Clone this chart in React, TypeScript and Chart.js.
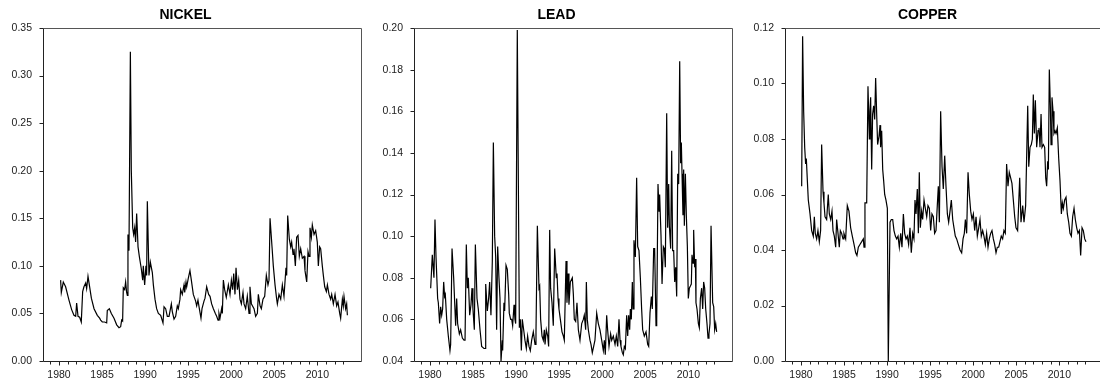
import React, { useEffect, useRef } from "react";
import { Chart, registerables } from "chart.js";

Chart.register(...registerables);

// ---- data (decimal year, value) ----
const nickelSeries: [number, number][] = [
  [1980.19,0.085],[1980.27,0.072],[1980.50,0.083],[1980.77,0.078],[1981.16,0.064],[1981.47,0.054],[1981.74,0.048],[1981.94,0.047],
  [1982.05,0.061],[1982.21,0.047],[1982.40,0.046],[1982.59,0.041],[1982.75,0.073],[1982.90,0.078],[1983.10,0.082],[1983.21,0.076],
  [1983.37,0.089],[1983.56,0.078],[1983.76,0.066],[1984.07,0.055],[1984.45,0.048],[1984.72,0.045],[1984.84,0.043],[1985.03,0.041],
  [1985.30,0.041],[1985.54,0.040],[1985.61,0.053],[1985.85,0.055],[1986.08,0.050],[1986.39,0.045],[1986.70,0.038],[1986.97,0.035],
  [1987.16,0.036],[1987.28,0.043],[1987.39,0.042],[1987.47,0.077],[1987.63,0.075],[1987.74,0.083],[1987.86,0.072],[1987.94,0.069],
  [1988.01,0.133],[1988.13,0.116],[1988.29,0.325],[1988.40,0.200],[1988.56,0.140],[1988.67,0.133],[1988.79,0.140],[1988.90,0.125],
  [1989.02,0.155],[1989.18,0.120],[1989.33,0.110],[1989.56,0.097],[1989.72,0.085],[1989.79,0.100],[1989.95,0.080],[1990.10,0.100],
  [1990.18,0.090],[1990.26,0.168],[1990.45,0.090],[1990.61,0.104],[1990.84,0.093],[1990.96,0.080],[1991.15,0.065],[1991.34,0.055],
  [1991.54,0.050],[1991.81,0.048],[1992.08,0.040],[1992.20,0.057],[1992.39,0.055],[1992.58,0.047],[1992.78,0.047],[1993.05,0.060],
  [1993.16,0.052],[1993.36,0.044],[1993.55,0.047],[1993.74,0.058],[1993.86,0.055],[1994.05,0.065],[1994.13,0.075],[1994.32,0.070],
  [1994.52,0.080],[1994.60,0.072],[1994.75,0.083],[1994.83,0.078],[1995.02,0.087],[1995.21,0.095],[1995.37,0.085],[1995.60,0.070],
  [1995.87,0.063],[1995.99,0.058],[1996.14,0.064],[1996.30,0.055],[1996.49,0.045],[1996.61,0.055],[1996.84,0.063],[1996.96,0.066],
  [1997.15,0.078],[1997.38,0.070],[1997.54,0.068],[1997.73,0.060],[1997.93,0.055],[1998.16,0.050],[1998.31,0.047],[1998.47,0.043],
  [1998.58,0.050],[1998.70,0.045],[1998.89,0.055],[1998.97,0.050],[1999.09,0.085],[1999.24,0.075],[1999.43,0.067],[1999.67,0.080],
  [1999.86,0.070],[2000.02,0.085],[2000.17,0.075],[2000.29,0.092],[2000.44,0.070],[2000.56,0.098],[2000.72,0.075],[2000.87,0.085],
  [2001.02,0.065],[2001.18,0.060],[2001.37,0.072],[2001.49,0.060],[2001.68,0.055],[2001.87,0.068],[2002.07,0.050],[2002.18,0.078],
  [2002.34,0.060],[2002.65,0.055],[2002.84,0.047],[2003.04,0.050],[2003.15,0.070],[2003.35,0.058],[2003.50,0.055],[2003.69,0.065],
  [2003.89,0.068],[2004.08,0.090],[2004.27,0.080],[2004.39,0.085],[2004.51,0.150],[2004.74,0.120],[2004.89,0.100],[2005.09,0.080],
  [2005.28,0.065],[2005.36,0.060],[2005.55,0.070],[2005.75,0.065],[2005.94,0.080],[2006.13,0.068],[2006.36,0.098],[2006.44,0.090],
  [2006.56,0.153],[2006.75,0.128],[2006.91,0.120],[2007.02,0.125],[2007.18,0.112],[2007.29,0.118],[2007.45,0.100],[2007.60,0.130],
  [2007.76,0.132],[2007.91,0.110],[2008.07,0.118],[2008.26,0.108],[2008.46,0.110],[2008.57,0.095],[2008.77,0.083],[2008.92,0.115],
  [2009.04,0.110],[2009.15,0.140],[2009.31,0.130],[2009.42,0.143],[2009.62,0.133],[2009.81,0.137],[2010.00,0.125],[2010.12,0.100],
  [2010.27,0.120],[2010.39,0.118],[2010.58,0.100],[2010.70,0.090],[2010.86,0.078],[2011.05,0.073],[2011.17,0.080],[2011.36,0.070],
  [2011.55,0.065],[2011.67,0.070],[2011.86,0.060],[2012.06,0.070],[2012.25,0.058],[2012.40,0.062],[2012.60,0.050],[2012.71,0.045],
  [2012.91,0.065],[2013.02,0.058],[2013.10,0.068],[2013.29,0.055],[2013.41,0.060],[2013.49,0.048],
];

const leadSeries: [number, number][] = [
  [1980.08,0.075],[1980.27,0.091],[1980.46,0.080],[1980.58,0.108],[1980.70,0.090],[1980.89,0.070],[1980.97,0.068],[1981.12,0.058],
  [1981.24,0.066],[1981.36,0.062],[1981.47,0.065],[1981.59,0.078],[1981.70,0.071],[1981.78,0.072],[1981.94,0.060],[1982.13,0.052],
  [1982.32,0.045],[1982.40,0.048],[1982.56,0.094],[1982.75,0.080],[1982.90,0.065],[1982.98,0.057],[1983.10,0.070],[1983.21,0.058],
  [1983.41,0.053],[1983.56,0.055],[1983.76,0.051],[1983.95,0.050],[1984.07,0.050],[1984.22,0.096],[1984.34,0.075],[1984.45,0.080],
  [1984.61,0.062],[1984.76,0.067],[1984.88,0.075],[1984.99,0.065],[1985.15,0.055],[1985.27,0.096],[1985.46,0.070],[1985.61,0.065],
  [1985.81,0.055],[1986.00,0.047],[1986.27,0.046],[1986.39,0.046],[1986.47,0.077],[1986.66,0.064],[1986.81,0.070],[1986.93,0.078],
  [1987.08,0.062],[1987.24,0.088],[1987.36,0.145],[1987.51,0.100],[1987.63,0.090],[1987.74,0.055],[1987.86,0.095],[1988.01,0.080],
  [1988.13,0.070],[1988.25,0.040],[1988.40,0.050],[1988.44,0.045],[1988.59,0.068],[1988.67,0.064],[1988.83,0.086],[1988.98,0.084],
  [1989.14,0.072],[1989.21,0.063],[1989.37,0.060],[1989.49,0.060],[1989.60,0.057],[1989.76,0.067],[1989.87,0.060],[1989.95,0.058],
  [1990.14,0.199],[1990.38,0.056],[1990.49,0.060],[1990.61,0.045],[1990.72,0.060],[1990.88,0.055],[1991.03,0.050],[1991.19,0.046],
  [1991.34,0.052],[1991.50,0.047],[1991.65,0.045],[1991.81,0.050],[1992.00,0.054],[1992.20,0.048],[1992.31,0.054],[1992.47,0.105],
  [1992.66,0.075],[1992.74,0.076],[1992.85,0.060],[1993.01,0.052],[1993.16,0.050],[1993.28,0.055],[1993.36,0.048],[1993.51,0.055],
  [1993.67,0.052],[1993.78,0.047],[1993.90,0.103],[1994.01,0.075],[1994.17,0.068],[1994.32,0.057],[1994.48,0.094],[1994.67,0.080],
  [1994.75,0.082],[1994.87,0.070],[1994.98,0.065],[1995.14,0.060],[1995.33,0.054],[1995.49,0.052],[1995.60,0.050],[1995.80,0.088],
  [1995.91,0.068],[1996.03,0.082],[1996.14,0.067],[1996.30,0.078],[1996.53,0.080],[1996.65,0.072],[1996.76,0.060],[1996.92,0.059],
  [1997.07,0.068],[1997.23,0.055],[1997.42,0.050],[1997.62,0.058],[1997.81,0.060],[1997.92,0.062],[1998.08,0.055],[1998.16,0.078],
  [1998.27,0.060],[1998.39,0.055],[1998.58,0.050],[1998.70,0.048],[1998.85,0.044],[1999.01,0.047],[1999.16,0.050],[1999.36,0.063],
  [1999.55,0.058],[1999.74,0.055],[1999.94,0.050],[2000.13,0.045],[2000.25,0.050],[2000.36,0.043],[2000.52,0.062],[2000.63,0.055],
  [2000.79,0.047],[2000.98,0.053],[2001.10,0.050],[2001.29,0.052],[2001.49,0.048],[2001.64,0.052],[2001.80,0.047],[2001.95,0.060],
  [2002.07,0.050],[2002.18,0.047],[2002.34,0.044],[2002.45,0.043],[2002.57,0.047],[2002.69,0.046],[2002.84,0.062],[2002.96,0.052],
  [2003.07,0.062],[2003.19,0.055],[2003.27,0.065],[2003.38,0.060],[2003.50,0.078],[2003.58,0.065],[2003.69,0.098],[2003.85,0.090],
  [2004.00,0.128],[2004.12,0.095],[2004.27,0.093],[2004.43,0.080],[2004.58,0.065],[2004.70,0.055],[2004.89,0.052],[2005.09,0.054],
  [2005.28,0.048],[2005.40,0.047],[2005.55,0.063],[2005.71,0.071],[2005.82,0.065],[2005.98,0.094],[2006.09,0.094],[2006.25,0.057],
  [2006.33,0.060],[2006.48,0.125],[2006.60,0.112],[2006.67,0.120],[2006.83,0.100],[2006.95,0.077],[2007.10,0.095],[2007.22,0.094],
  [2007.33,0.085],[2007.49,0.159],[2007.60,0.104],[2007.72,0.125],[2007.80,0.105],[2007.95,0.094],[2008.07,0.141],[2008.18,0.093],
  [2008.30,0.093],[2008.42,0.078],[2008.53,0.085],[2008.65,0.071],[2008.77,0.130],[2008.88,0.125],[2009.00,0.184],[2009.11,0.135],
  [2009.19,0.145],[2009.27,0.130],[2009.38,0.110],[2009.46,0.132],[2009.54,0.105],[2009.66,0.130],[2009.77,0.110],[2009.89,0.095],
  [2010.00,0.070],[2010.12,0.075],[2010.24,0.076],[2010.35,0.077],[2010.43,0.091],[2010.55,0.087],[2010.62,0.103],[2010.74,0.085],
  [2010.82,0.089],[2010.89,0.068],[2011.01,0.065],[2011.17,0.058],[2011.28,0.056],[2011.40,0.070],[2011.55,0.075],[2011.67,0.065],
  [2011.78,0.078],[2011.90,0.075],[2012.02,0.065],[2012.17,0.058],[2012.29,0.051],[2012.40,0.053],[2012.52,0.058],[2012.64,0.105],
  [2012.83,0.068],[2012.95,0.066],[2013.06,0.055],[2013.18,0.058],[2013.29,0.054],
];

const copperSeries: [number, number][] = [
  [1980.08,0.063],[1980.19,0.117],[1980.31,0.090],[1980.43,0.077],[1980.54,0.071],[1980.62,0.073],[1980.74,0.065],[1980.85,0.058],
  [1981.05,0.053],[1981.24,0.047],[1981.43,0.045],[1981.55,0.052],[1981.66,0.046],[1981.82,0.044],[1981.97,0.047],[1982.13,0.043],
  [1982.28,0.047],[1982.40,0.078],[1982.56,0.061],[1982.67,0.057],[1982.79,0.052],[1982.98,0.051],[1983.17,0.060],[1983.29,0.053],
  [1983.45,0.051],[1983.60,0.054],[1983.72,0.047],[1983.87,0.045],[1984.03,0.041],[1984.14,0.051],[1984.30,0.046],[1984.45,0.041],
  [1984.57,0.047],[1984.72,0.046],[1984.88,0.044],[1984.99,0.046],[1985.19,0.044],[1985.38,0.056],[1985.57,0.054],[1985.77,0.048],
  [1985.96,0.045],[1986.16,0.042],[1986.35,0.039],[1986.50,0.038],[1986.66,0.041],[1986.85,0.042],[1987.05,0.043],[1987.24,0.044],
  [1987.32,0.041],[1987.43,0.057],[1987.63,0.057],[1987.78,0.099],[1987.94,0.080],[1988.01,0.090],[1988.09,0.095],[1988.21,0.069],
  [1988.32,0.089],[1988.44,0.092],[1988.56,0.087],[1988.67,0.102],[1988.79,0.089],[1988.90,0.078],[1989.06,0.081],[1989.18,0.085],
  [1989.25,0.077],[1989.37,0.083],[1989.49,0.069],[1989.60,0.065],[1989.72,0.060],[1989.87,0.058],[1990.03,0.055],[1990.14,0.000],
  [1990.34,0.050],[1990.49,0.051],[1990.65,0.051],[1990.80,0.047],[1990.96,0.045],[1991.11,0.044],[1991.27,0.045],[1991.42,0.041],
  [1991.58,0.046],[1991.73,0.041],[1991.89,0.053],[1992.04,0.046],[1992.20,0.044],[1992.35,0.045],[1992.50,0.042],[1992.66,0.048],
  [1992.81,0.039],[1992.97,0.046],[1993.12,0.044],[1993.24,0.058],[1993.36,0.053],[1993.51,0.062],[1993.63,0.046],[1993.74,0.068],
  [1993.86,0.048],[1994.01,0.054],[1994.13,0.051],[1994.29,0.058],[1994.44,0.055],[1994.60,0.052],[1994.75,0.056],[1994.91,0.055],
  [1995.06,0.047],[1995.21,0.053],[1995.37,0.052],[1995.52,0.046],[1995.68,0.047],[1995.83,0.056],[1995.95,0.063],[1996.07,0.050],
  [1996.22,0.090],[1996.38,0.070],[1996.53,0.062],[1996.69,0.074],[1996.84,0.063],[1997.00,0.053],[1997.15,0.050],[1997.31,0.054],
  [1997.46,0.058],[1997.62,0.051],[1997.77,0.048],[1997.92,0.045],[1998.08,0.044],[1998.27,0.042],[1998.47,0.040],[1998.66,0.039],
  [1998.82,0.044],[1998.97,0.046],[1999.09,0.051],[1999.24,0.046],[1999.40,0.068],[1999.55,0.060],[1999.71,0.054],[1999.86,0.051],
  [2000.02,0.053],[2000.17,0.047],[2000.33,0.052],[2000.48,0.045],[2000.64,0.048],[2000.79,0.051],[2000.94,0.045],[2001.10,0.047],
  [2001.25,0.045],[2001.41,0.042],[2001.56,0.046],[2001.72,0.041],[2001.87,0.044],[2002.03,0.046],[2002.18,0.047],[2002.34,0.044],
  [2002.49,0.042],[2002.65,0.039],[2002.80,0.041],[2002.96,0.041],[2003.11,0.043],[2003.26,0.045],[2003.42,0.044],[2003.57,0.047],
  [2003.73,0.046],[2003.88,0.071],[2004.04,0.063],[2004.19,0.068],[2004.35,0.066],[2004.50,0.064],[2004.66,0.058],[2004.82,0.052],
  [2004.97,0.048],[2005.16,0.047],[2005.40,0.066],[2005.55,0.050],[2005.75,0.056],[2005.90,0.050],[2006.09,0.056],[2006.33,0.092],
  [2006.45,0.070],[2006.60,0.077],[2006.75,0.078],[2006.87,0.080],[2006.98,0.096],[2007.10,0.082],[2007.22,0.094],[2007.37,0.077],
  [2007.53,0.083],[2007.64,0.084],[2007.76,0.077],[2007.88,0.089],[2007.99,0.077],[2008.15,0.078],[2008.30,0.077],[2008.42,0.066],
  [2008.53,0.063],[2008.65,0.072],[2008.73,0.069],[2008.84,0.105],[2008.96,0.092],[2009.04,0.078],[2009.15,0.095],[2009.27,0.090],
  [2009.38,0.082],[2009.50,0.083],[2009.62,0.082],[2009.77,0.084],[2009.93,0.073],[2010.08,0.065],[2010.24,0.053],[2010.35,0.057],
  [2010.47,0.055],[2010.62,0.058],[2010.78,0.059],[2010.93,0.053],[2011.09,0.050],[2011.24,0.046],[2011.40,0.045],[2011.55,0.052],
  [2011.71,0.055],[2011.86,0.051],[2012.02,0.048],[2012.17,0.046],[2012.33,0.047],[2012.48,0.038],[2012.64,0.048],[2012.79,0.047],
  [2012.95,0.044],[2013.10,0.043],
];

// ---- axes ----
const xLabelYears = [1980, 1985, 1990, 1995, 2000, 2005, 2010];
const xMinorYears = [1979,1981,1982,1983,1984,1986,1987,1988,1989,1991,1992,1993,1994,1996,1997,1998,1999,2001,2002,2003,2004,2006,2007,2008,2009,2011,2012,2013];
const nickelTicks = [0, 0.05, 0.1, 0.15, 0.2, 0.25, 0.3, 0.35];
const leadTicks = [0.04, 0.06, 0.08, 0.1, 0.12, 0.14, 0.16, 0.18, 0.2];
const copperTicks = [0, 0.02, 0.04, 0.06, 0.08, 0.1, 0.12];

const X_MIN = 1978.26;
const X_MAX = 2015.19;
const FONT = '"Liberation Sans", Arial, sans-serif';

const framePlugin = {
  id: "frame",
  afterDraw(chart: any, _args: any, opts: any) {
    const { ctx, chartArea: a, scales } = chart;
    ctx.save();
    ctx.lineWidth = 1;
    const L = Math.round(a.left) - 0.5;
    const R = Math.round(a.right) - 0.5;
    const T = Math.round(a.top) + 0.5;
    const B = Math.round(a.bottom) + 0.5;
    // top and right frame (lighter)
    ctx.strokeStyle = "#555";
    ctx.beginPath();
    ctx.moveTo(L, T);
    ctx.lineTo(R, T);
    ctx.lineTo(R, B);
    ctx.stroke();
    // left and bottom axes with ticks
    ctx.strokeStyle = "#222";
    ctx.beginPath();
    ctx.moveTo(L, T);
    ctx.lineTo(L, B);
    ctx.lineTo(R, B);
    for (const t of scales.y.ticks) {
      const py = Math.round(scales.y.getPixelForValue(t.value)) + 0.5;
      ctx.moveTo(L - 4, py);
      ctx.lineTo(L, py);
    }
    for (const yr of xLabelYears) {
      const px = Math.round(scales.x.getPixelForValue(yr)) + 0.5;
      ctx.moveTo(px, B);
      ctx.lineTo(px, B + 4);
    }
    for (const yr of xMinorYears) {
      const px = Math.round(scales.x.getPixelForValue(yr)) + 0.5;
      ctx.moveTo(px, B);
      ctx.lineTo(px, B + 3);
    }
    ctx.stroke();
    ctx.fillStyle = "#000";
    ctx.font = `bold 14px ${FONT}`;
    ctx.textAlign = "center";
    ctx.textBaseline = "middle";
    ctx.fillText(opts.title, chart.width / 2, 15);
    ctx.restore();
  },
};

type PanelProps = {
  title: string;
  series: [number, number][];
  yTicks: number[];
  left: number;
};

function Panel({ title, series, yTicks, left }: PanelProps) {
  const ref = useRef<HTMLCanvasElement | null>(null);
  useEffect(() => {
    if (!ref.current) return;
    const chart = new Chart(ref.current, {
      type: "line",
      data: {
        datasets: [
          {
            data: series.map(([x, y]) => ({ x, y })),
            borderColor: "#000",
            borderWidth: 1.2,
            pointRadius: 0,
            tension: 0,
            fill: false,
          },
        ],
      },
      options: {
        animation: false,
        responsive: false,
        events: [],
        layout: { padding: { top: 28, right: 9, left: 0, bottom: 0 } },
        plugins: {
          legend: { display: false },
          tooltip: { enabled: false },
          title: { display: false },
          frame: { title },
        } as any,
        scales: {
          x: {
            type: "linear",
            min: X_MIN,
            max: X_MAX,
            grid: { display: false, drawTicks: false },
            border: { display: false },
            afterBuildTicks: (s: any) => {
              s.ticks = xLabelYears.map((v) => ({ value: v }));
            },
            afterFit: (s: any) => {
              s.height = 22;
            },
            ticks: {
              autoSkip: false,
              maxRotation: 0,
              padding: 8,
              color: "#222",
              font: { family: FONT, size: 10.5 },
              callback: (v: any) => String(v),
            },
          },
          y: {
            type: "linear",
            min: yTicks[0],
            max: yTicks[yTicks.length - 1],
            grid: { display: false, drawTicks: false },
            border: { display: false },
            afterBuildTicks: (s: any) => {
              s.ticks = yTicks.map((v) => ({ value: v }));
            },
            afterFit: (s: any) => {
              s.width = 44;
            },
            ticks: {
              autoSkip: false,
              padding: 12,
              color: "#222",
              font: { family: FONT, size: 10.5 },
              callback: (v: any) => Number(v).toFixed(2),
            },
          },
        },
      },
      plugins: [framePlugin],
    } as any);
    return () => chart.destroy();
  }, [title, series, yTicks]);

  return (
    <canvas
      ref={ref}
      width={371}
      height={383}
      style={{ position: "absolute", left, top: 0, width: 371, height: 383 }}
    />
  );
}

export default function App() {
  return (
    <div
      style={{
        position: "absolute",
        left: 0,
        top: 0,
        width: 1100,
        height: 383,
        overflow: "hidden",
        background: "#fff",
      }}
    >
      <Panel title="NICKEL" series={nickelSeries} yTicks={nickelTicks} left={0} />
      <Panel title="LEAD" series={leadSeries} yTicks={leadTicks} left={371} />
      <Panel title="COPPER" series={copperSeries} yTicks={copperTicks} left={742} />
    </div>
  );
}
